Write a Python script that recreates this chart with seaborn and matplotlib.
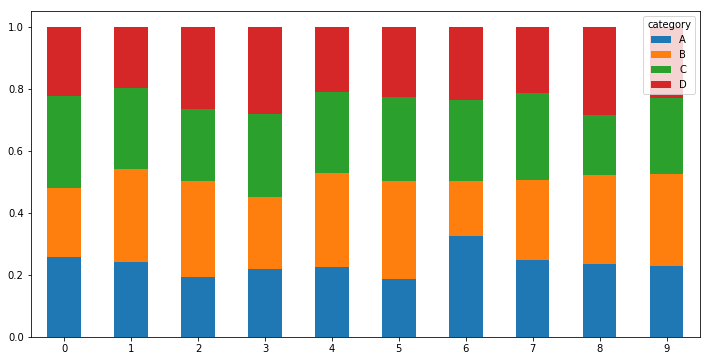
import numpy as np
import pandas as pd
import matplotlib.pyplot as plt
import seaborn as sns
from matplotlib.patches import Patch

# Row index and the share of each category per row (segment heights)
rows = list(range(10))
share_a = [0.258, 0.241, 0.193, 0.219, 0.225, 0.188, 0.325, 0.248, 0.235, 0.228]
share_b = [0.221, 0.299, 0.309, 0.231, 0.302, 0.314, 0.177, 0.257, 0.286, 0.297]
share_c = [0.298, 0.261, 0.231, 0.267, 0.261, 0.270, 0.261, 0.280, 0.193, 0.245]
share_d = [0.223, 0.199, 0.267, 0.283, 0.212, 0.228, 0.237, 0.215, 0.286, 0.230]
categories = ['A', 'B', 'C', 'D']
colors = ['#1f77b4', '#ff7f0e', '#2ca02c', '#d62728']

df = pd.DataFrame({'row': rows, 'A': share_a, 'B': share_b, 'C': share_c, 'D': share_d})
# cumulative tops so later (lower) layers are drawn over earlier ones
cum = df[categories].cumsum(axis=1)
cum['row'] = df['row']

# rendered at 72 dpi, like the original
fig = plt.figure(figsize=(710 / 72, 361 / 72), dpi=72)
ax = fig.add_axes([0.0432, 0.0665, 0.9428, 0.903])

for cat, col in reversed(list(zip(categories, colors))):
    sns.barplot(data=cum, x='row', y=cat, color=col, width=0.5,
                linewidth=0, saturation=1, ax=ax, errorbar=None)

ax.set_xlim(-0.5, 9.5)
ax.set_ylim(0, 1.05)
ax.set_yticks([0.0, 0.2, 0.4, 0.6, 0.8, 1.0])
ax.set_xlabel('')
ax.set_ylabel('')

handles = [Patch(facecolor=c, label=l) for l, c in zip(categories, colors)]
ax.legend(handles=handles, title='category', loc='upper right')

fig.savefig('out.png', dpi=72)
